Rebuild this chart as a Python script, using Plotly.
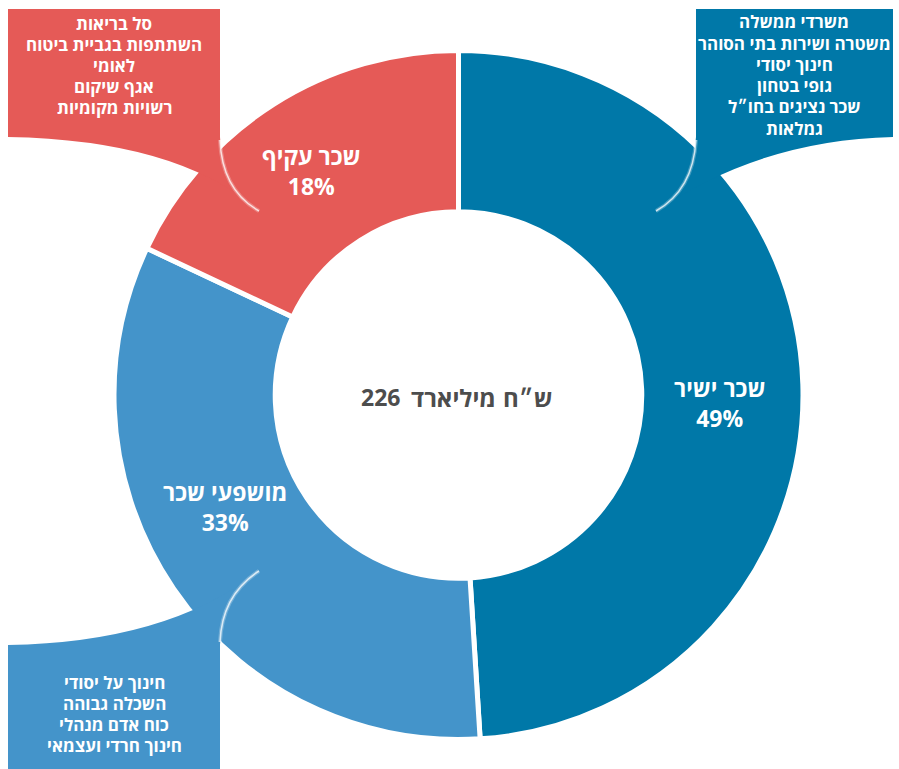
import plotly.graph_objects as go

W, H = 899, 769

# ---- data ----
categories = ["שכר ישיר", "מושפעי שכר", "שכר עקיף"]
shares = [49, 33, 18]
share_labels = ["49%", "33%", "18%"]
colors = ["#0078a8", "#4494ca", "#e55a57"]
total_value = "226"
total_words = ["מיליארד", "ש״ח"]

direct_items = ["משרדי ממשלה", "משטרה ושירות בתי הסוהר", "חינוך יסודי",
                "גופי בטחון", "שכר נציגים בחו״ל", "גמלאות"]
affected_items = ["חינוך על יסודי", "השכלה גבוהה", "כוח אדם מנהלי",
                  "חינוך חרדי ועצמאי"]
indirect_items = ["סל בריאות", "השתתפות בגביית ביטוח", "לאומי", "אגף שיקום",
                  "רשויות מקומיות"]

FONT = "Open Sans, Liberation Sans, DejaVu Sans, sans-serif"

# ---- geometry helpers (pixel -> paper) ----
def px(x):
    return x / W

def py(y):
    return 1 - y / H

cx, cy, R = 458.5, 395.0, 344.5

fig = go.Figure()
fig.add_trace(go.Pie(
    labels=categories, values=shares, sort=False, direction="clockwise",
    rotation=0, hole=0.532, textinfo="none", hoverinfo="label+percent",
    marker=dict(colors=colors, line=dict(color="white", width=5)),
    domain=dict(x=[px(cx - R), px(cx + R)], y=[py(cy + R), py(cy - R)]),
    showlegend=False,
))

def path(points_cmds):
    out = []
    for cmd in points_cmds:
        c = cmd[0]
        nums = cmd[1:]
        coords = []
        for i in range(0, len(nums), 2):
            coords.append(f"{px(nums[i]):.5f},{py(nums[i+1]):.5f}")
        out.append(c + " " + " ".join(coords))
    return " ".join(out)

shapes = []
# red callout (top-left)
shapes.append(dict(type="path", xref="paper", yref="paper", layer="above",
    path=path([("M", 8, 9), ("L", 220, 9), ("L", 220, 137),
               ("Q", 222, 190, 260, 212), ("Q", 180, 140, 8, 137), ("Z",)]),
    fillcolor=colors[2], line=dict(width=0)))
# blue callout (top-right)
shapes.append(dict(type="path", xref="paper", yref="paper", layer="above",
    path=path([("M", 696, 9), ("L", 893, 9), ("L", 893, 137),
               ("Q", 760, 140, 655, 212), ("Q", 693, 190, 696, 137), ("Z",)]),
    fillcolor=colors[0], line=dict(width=0)))
# light blue callout (bottom-left)
shapes.append(dict(type="path", xref="paper", yref="paper", layer="above",
    path=path([("M", 8, 645), ("Q", 170, 642, 260, 570), ("Q", 222, 595, 220, 645),
               ("L", 220, 769), ("L", 8, 769), ("Z",)]),
    fillcolor=colors[1], line=dict(width=0)))

# glow edges
glows = [
    [("M", 220, 140), ("Q", 222, 190, 259, 211)],
    [("M", 696, 140), ("Q", 693, 190, 656, 211)],
    [("M", 220, 642), ("Q", 222, 595, 259, 571)],
]
for g in glows:
    shapes.append(dict(type="path", xref="paper", yref="paper", layer="above",
                       path=path(g), line=dict(color="rgba(255,255,255,0.25)", width=4)))
    shapes.append(dict(type="path", xref="paper", yref="paper", layer="above",
                       path=path(g), line=dict(color="rgba(255,255,255,0.75)", width=1.5)))

annotations = []
def add_text(x, y, text, size, color="white", anchor="center"):
    annotations.append(dict(x=px(x), y=py(y), xref="paper", yref="paper",
        text=text, showarrow=False, xanchor=anchor, yanchor="middle",
        font=dict(family=FONT, size=size, color=color, weight="bold")))

# callout texts
for i, t in enumerate(indirect_items):
    add_text(114, 23 + i * 21.2, t, 17)
for i, t in enumerate(direct_items):
    add_text(794, 22 + i * 21.2, t, 17)
for i, t in enumerate(affected_items):
    add_text(114, 682 + i * 21, t, 17)

# slice labels (name + share on two lines)
label_pos = [(719, 403), (225, 507), (311, 171)]
for (x, y), name, pct in zip(label_pos, categories, share_labels):
    add_text(x, y, f"{name}<br>{pct}", 23)

# centre total: number on the left, then the two Hebrew words
add_text(402, 397, total_value, 23, color="#4d4d4d", anchor="right")
add_text(409, 397, total_words[0], 24, color="#4d4d4d", anchor="left")
add_text(555, 397, total_words[1], 24, color="#4d4d4d", anchor="right")

fig.update_layout(width=W, height=H, margin=dict(l=0, r=0, t=0, b=0),
                  paper_bgcolor="white", plot_bgcolor="white",
                  shapes=shapes, annotations=annotations)

fig.write_html("out.html", config={"displayModeBar": False},
               post_script="document.body.style.margin='0';")
